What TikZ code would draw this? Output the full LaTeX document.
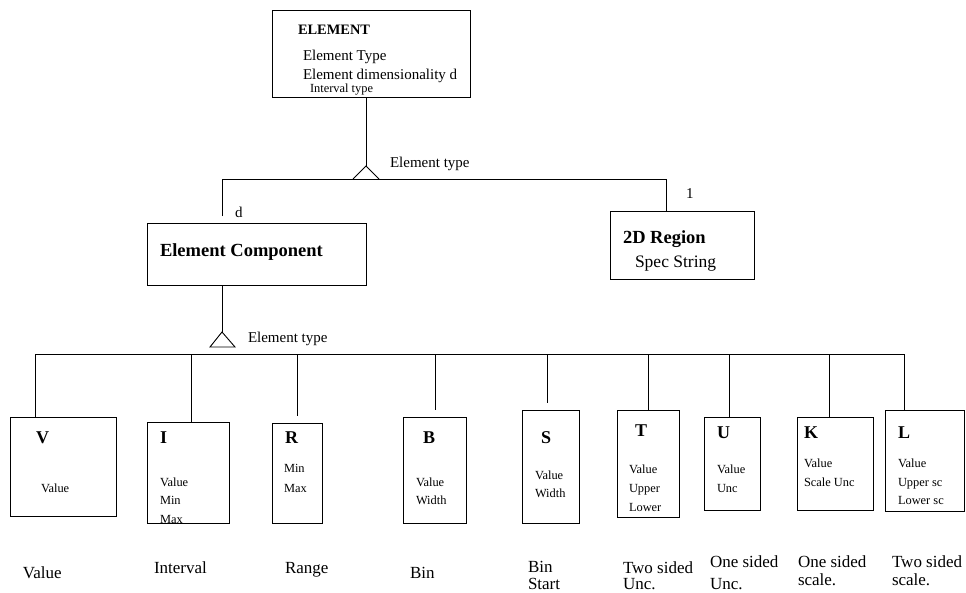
\documentclass[tikz,border=0pt]{standalone}
\usepackage{fontspec}
\setmainfont{Liberation Serif}
\begin{document}
\begin{tikzpicture}[x=1pt,y=-1pt,
  box/.style={draw, line width=1pt, inner sep=0pt, outer sep=0pt, anchor=north west},
  link/.style={draw, line width=0.9pt},
  tri/.style={draw, line width=0.9pt},
  txt/.style={anchor=base west, inner sep=0pt, outer sep=0pt},
  hd/.style={txt, font=\fontsize{14.4}{16}\selectfont\bfseries},
  big/.style={txt, font=\fontsize{18.5}{21}\selectfont\bfseries},
  mid/.style={txt, font=\fontsize{15}{18}\selectfont},
  sml/.style={txt, font=\fontsize{12.4}{14}\selectfont},
  letter/.style={txt, font=\fontsize{18}{20}\selectfont\bfseries},
  caption/.style={txt, font=\fontsize{17}{20}\selectfont},
]
\useasboundingbox (0,0) rectangle (966,592);

% ---- top entity ----
\node[box, minimum width=198pt, minimum height=87pt] (elem) at (272,10) {};
\node[hd]  (elemT)  at (298,34) {ELEMENT};
\node[mid] (elemA)  at (303,60) {Element Type};
\node[mid] (elemB)  at (303,79) {Element dimensionality d};
\node[sml] (elemC)  at (310,92) {Interval type};

% generalisation triangle under ELEMENT
\coordinate (apexA) at (366,166);
\coordinate (triAL) at (353,179);
\coordinate (triAR) at (379,179);
\draw[link] (elem.south -| apexA) -- (apexA);
\draw[tri] (triAL) -- (apexA) -- (triAR);
\node[mid] (typeA) at (390,167) {Element type};

% ---- second level ----
\node[box, minimum width=219pt, minimum height=62pt] (comp) at (147,223) {};
\node[big] (compT) at (160,256) {Element Component};
\node[box, minimum width=144pt, minimum height=68pt] (reg) at (610,211) {};
\node[big] (regT) at (623,243) {2D Region};
\node[txt, font=\fontsize{17.5}{20}\selectfont] (regA) at (635,267) {Spec String};

\coordinate (busAL) at (222,179);
\coordinate (busAR) at (666,179);
\coordinate (compIn) at (222,216);
\draw[link] (compIn) -- (busAL) -- (busAR) -- (reg.north -| busAR);
\node[mid] (multD) at (235,217) {d};
\node[mid] (multOne) at (686,198) {1};

% generalisation triangle under Element Component
\coordinate (apexB) at (222,332);
\coordinate (triBL) at (210,347);
\coordinate (triBR) at (235,347);
\draw[link] (comp.south -| apexB) -- (apexB);
\draw[tri] (triBL) -- (apexB) -- (triBR) -- cycle;
\node[mid] (typeB) at (248,342) {Element type};

% ---- bottom level ----
\coordinate (busBL) at (35,354);
\coordinate (busBR) at (904,354);
\draw[link] (busBL) -- (busBR);

% V
\node[box, minimum width=106pt, minimum height=99pt] (V) at (10,417) {};
\draw[link] (busBL) -- (V.north -| busBL);
\node[letter] (Vl) at (36,443) {V};
\node[sml] (Va) at (41,492) {Value};
\node[caption] (Vc) at (23,578) {Value};

% I
\node[box, minimum width=82pt, minimum height=101pt] (I) at (147,422) {};
\coordinate (Itop) at (191,354);
\draw[link] (Itop) -- (I.north -| Itop);
\node[letter] (Il) at (160,443) {I};
\node[sml] (Ia) at (160,486) {Value};
\node[sml] (Ib) at (160,504) {Min};
\node[sml] (Ic) at (160,523) {Max};
\node[caption] (Icap) at (154,573) {Interval};

% R
\node[box, minimum width=50pt, minimum height=100pt] (R) at (272,423) {};
\coordinate (Rtop) at (297,354);
\coordinate (Rend) at (297,416);
\draw[link] (Rtop) -- (Rend);
\node[letter] (Rl) at (285,443) {R};
\node[sml] (Ra) at (284,472) {Min};
\node[sml] (Rb) at (284,492) {Max};
\node[caption] (Rcap) at (285,573) {Range};

% B
\node[box, minimum width=63pt, minimum height=106pt] (B) at (403,417) {};
\coordinate (Btop) at (435,354);
\coordinate (Bend) at (435,410);
\draw[link] (Btop) -- (Bend);
\node[letter] (Bl) at (423,443) {B};
\node[sml] (Ba) at (416,486) {Value};
\node[sml] (Bb) at (416,504) {Width};
\node[caption] (Bcap) at (410,578) {Bin};

% S
\node[box, minimum width=57pt, minimum height=113pt] (S) at (522,410) {};
\coordinate (Stop) at (547,354);
\coordinate (Send) at (547,403);
\draw[link] (Stop) -- (Send);
\node[letter] (Sl) at (541,443) {S};
\node[sml] (Sa) at (535,479) {Value};
\node[sml] (Sb) at (535,497) {Width};
\node[caption] (Sc1) at (528,572) {Bin};
\node[caption] (Sc2) at (528,589) {Start};

% T
\node[box, minimum width=62pt, minimum height=107pt] (T) at (617,410) {};
\coordinate (Ttop) at (648,354);
\draw[link] (Ttop) -- (T.north -| Ttop);
\node[letter] (Tl) at (635,436) {T};
\node[sml] (Ta) at (629,473) {Value};
\node[sml] (Tb) at (629,492) {Upper};
\node[sml] (Tc) at (629,511) {Lower};
\node[caption] (Tc1) at (623,573) {Two sided};
\node[caption] (Tc2) at (623,589) {Unc.};

% U
\node[box, minimum width=56pt, minimum height=93pt] (U) at (704,417) {};
\coordinate (Utop) at (729,354);
\draw[link] (Utop) -- (U.north -| Utop);
\node[letter] (Ul) at (717,438) {U};
\node[sml] (Ua) at (717,473) {Value};
\node[sml] (Ub) at (717,492) {Unc};
\node[caption] (Uc1) at (710,567) {One sided};
\node[caption] (Uc2) at (710,589) {Unc.};

% K
\node[box, minimum width=76pt, minimum height=93pt] (K) at (797,417) {};
\coordinate (Ktop) at (829,354);
\draw[link] (Ktop) -- (K.north -| Ktop);
\node[letter] (Kl) at (804,438) {K};
\node[sml] (Ka) at (804,467) {Value};
\node[sml] (Kb) at (804,486) {Scale Unc};
\node[caption] (Kc1) at (798,567) {One sided};
\node[caption] (Kc2) at (798,585) {scale.};

% L
\node[box, minimum width=79pt, minimum height=101pt] (L) at (885,410) {};
\draw[link] (busBR) -- (L.north -| busBR);
\node[letter] (Ll) at (898,438) {L};
\node[sml] (La) at (898,467) {Value};
\node[sml] (Lb) at (898,486) {Upper sc};
\node[sml] (Lc) at (898,504) {Lower sc};
\node[caption] (Lc1) at (892,567) {Two sided};
\node[caption] (Lc2) at (892,585) {scale.};
\end{tikzpicture}
\end{document}
